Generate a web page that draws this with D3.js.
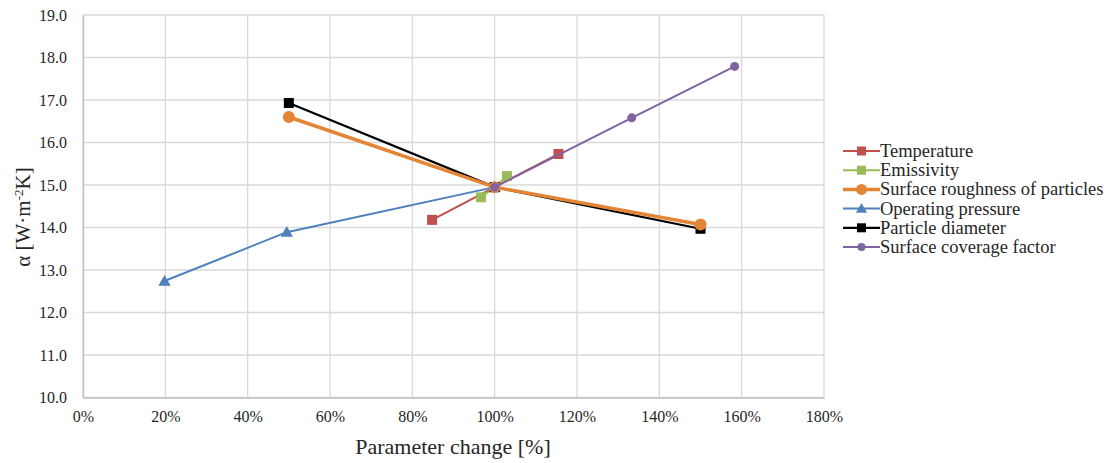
<!DOCTYPE html>
<html><head><meta charset="utf-8">
<script src="https://cdn.jsdelivr.net/npm/d3@7"></script>
<style>body{margin:0;background:#fff}svg{display:block}svg text{font-family:"Liberation Serif","Times New Roman","DejaVu Serif",serif !important;fill:#262626}</style>
</head><body><div id="chart"></div>
<script>
const xTicks = [0,20,40,60,80,100,120,140,160,180];
const yTicks = [10,11,12,13,14,15,16,17,18,19];
const seriesNames = ["Temperature","Emissivity","Surface roughness of particles","Operating pressure","Particle diameter","Surface coverage factor"];
const temperatureX = [84.8,100,115.5];
const temperatureY = [14.18,14.95,15.73];
const emissivityX = [96.7,100,103];
const emissivityY = [14.71,14.95,15.21];
const roughnessX = [50,100,150];
const roughnessY = [16.6,14.95,14.07];
const pressureX = [19.8,49.5,100];
const pressureY = [12.74,13.89,14.95];
const diameterX = [50,100,150];
const diameterY = [16.93,14.95,13.97];
const coverageX = [100,133.3,158.3];
const coverageY = [14.95,16.58,17.79];

const FONT='"Liberation Serif","Times New Roman",serif';
const W=1119,H=463;
const svg=d3.select("#chart").append("svg").attr("width",W).attr("height",H).attr("font-family",FONT);
const x=d3.scaleLinear().domain([0,180]).range([83,824]);
const y=d3.scaleLinear().domain([10,19]).range([397.5,15]);

// grid
svg.append("g").selectAll("line").data(yTicks).join("line")
  .attr("x1",x(0)).attr("x2",x(180)).attr("y1",d=>y(d)).attr("y2",d=>y(d))
  .attr("stroke","#d9d9d9").attr("stroke-width",1.3);
svg.append("g").selectAll("line").data(xTicks).join("line")
  .attr("y1",y(10)).attr("y2",y(19)).attr("x1",d=>x(d)).attr("x2",d=>x(d))
  .attr("stroke","#d9d9d9").attr("stroke-width",1.3);

// axes
const xAxis=d3.axisBottom(x).tickValues(xTicks).tickFormat(d=>d+"%").tickSize(0).tickPadding(13);
const gx=svg.append("g").attr("transform",`translate(0,${y(10)})`).call(xAxis);
gx.attr("font-family",FONT).attr("font-size",16);
gx.select(".domain").attr("stroke","#bfbfbf").attr("stroke-width",1.3);
gx.selectAll("text").attr("fill","#262626");
const yAxis=d3.axisLeft(y).tickValues(yTicks).tickFormat(d3.format(".1f")).tickSize(0).tickPadding(16);
const gy=svg.append("g").attr("transform",`translate(${x(0)},0)`).call(yAxis);
gy.attr("font-family",FONT).attr("font-size",16);
gy.select(".domain").attr("stroke","#bfbfbf").attr("stroke-width",1.3);
gy.selectAll("text").attr("fill","#262626");

// axis titles
svg.append("text").attr("x",453).attr("y",454).attr("text-anchor","middle").attr("font-size",22).text("Parameter change [%]");
const yt=svg.append("text").attr("transform",`translate(30,217) rotate(-90)`).attr("text-anchor","middle").attr("font-size",21);
yt.append("tspan").text("α [W·m");
yt.append("tspan").attr("dy",-7).attr("font-size",13).text("-2");
yt.append("tspan").attr("dy",7).text("K]");

const series=[
 {name:seriesNames[0],xs:temperatureX,ys:temperatureY,color:"#C0504D",w:2,marker:"square",size:10},
 {name:seriesNames[1],xs:emissivityX,ys:emissivityY,color:"#9BBB59",w:2,marker:"square",size:10},
 {name:seriesNames[3],xs:pressureX,ys:pressureY,color:"#4F81BD",w:2,marker:"triangle",size:11},
 {name:seriesNames[4],xs:diameterX,ys:diameterY,color:"#000000",w:2.2,marker:"square",size:10},
 {name:seriesNames[2],xs:roughnessX,ys:roughnessY,color:"#E38535",w:3.5,marker:"circle",size:12},
 {name:seriesNames[5],xs:coverageX,ys:coverageY,color:"#8064A2",w:2,marker:"circle",size:9},
];
function drawMarker(g,type,cx,cy,s,color){
  if(type==="square") g.append("rect").attr("x",cx-s/2).attr("y",cy-s/2).attr("width",s).attr("height",s).attr("fill",color);
  else if(type==="circle") g.append("circle").attr("cx",cx).attr("cy",cy).attr("r",s/2).attr("fill",color);
  else g.append("path").attr("d",d3.symbol(d3.symbolTriangle,s*s*0.55)()).attr("transform",`translate(${cx},${cy+1})`).attr("fill",color);
}
const line=d3.line().x(d=>x(d[0])).y(d=>y(d[1]));
series.forEach(s=>{
  const pts=s.xs.map((v,i)=>[v,s.ys[i]]);
  const g=svg.append("g");
  g.append("path").datum(pts).attr("d",line).attr("fill","none").attr("stroke",s.color).attr("stroke-width",s.w);
  pts.forEach(p=>drawMarker(g,s.marker,x(p[0]),y(p[1]),s.size,s.color));
});

// legend
const lg=svg.append("g").attr("transform","translate(843,151)");
seriesNames.forEach((n,i)=>{
  const s=series.find(d=>d.name===n);
  const gy2=i*19.2;
  lg.append("line").attr("x1",0).attr("x2",37).attr("y1",gy2).attr("y2",gy2).attr("stroke",s.color).attr("stroke-width",s.w);
  drawMarker(lg,s.marker,18.5,gy2,s.size-1,s.color);
  lg.append("text").attr("x",37).attr("y",gy2+6).attr("font-size",18.5).text(n);
});
</script></body></html>
